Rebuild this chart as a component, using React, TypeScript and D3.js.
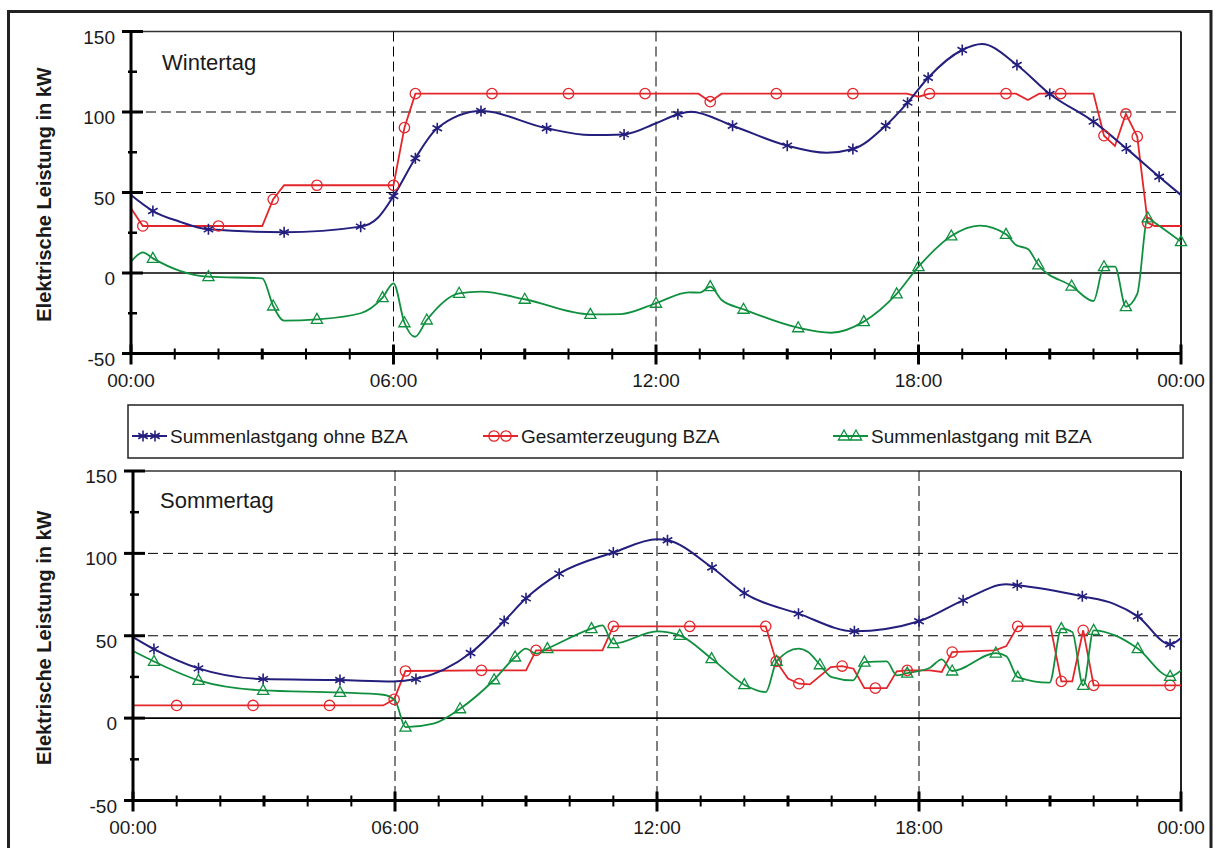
import React from 'react';
import * as d3 from 'd3';

type P = [number, number, number]; // [hour, kW, marker?]

const yTicksMajor = [-50, 0, 50, 100, 150];
const yTicksMinor = [-25, 25, 75, 125];
const yGridDashed = [50, 100];
const xVertDashed = [6, 12, 18];
const xHourTicks = d3.range(0, 25);
const xLabelHours = [0, 6, 12, 18, 24];
const xLabels = ['00:00', '06:00', '12:00', '18:00', '00:00'];
const seriesNames = ['Summenlastgang ohne BZA', 'Gesamterzeugung BZA', 'Summenlastgang mit BZA'];
const panelTitles = ['Wintertag', 'Sommertag'];
const yTitle = 'Elektrische Leistung in kW';

// Wintertag
const winterLoad: P[] = [
  [0, 48.4, 0], [0.5, 38.5, 1], [1.1, 32, 0], [1.77, 27.1, 1], [3.5, 25.3, 1], [5.25, 28.8, 1],
  [5.65, 34.5, 0], [6.0, 47.8, 1], [6.5, 71.3, 1], [7.0, 89.9, 1], [8.0, 100.6, 1], [9.5, 89.9, 1],
  [10.5, 85.7, 0], [11.27, 86.1, 1], [12.0, 93, 0], [12.5, 98.6, 1], [12.8, 100.2, 0], [13.75, 91.5, 1],
  [15.0, 79.1, 1], [15.9, 74.7, 0], [16.5, 77, 1], [17.25, 91.5, 1], [17.75, 105.8, 1], [18.22, 121.3, 1],
  [19.0, 138.5, 1], [19.45, 142.2, 0], [20.25, 129.2, 1], [21.0, 111.2, 1], [22.0, 94, 1], [22.75, 77.4, 1],
  [23.5, 59.8, 1], [24, 48.4, 0],
];
const winterGen: P[] = [
  [0, 40.2, 0], [0.27, 29.2, 1], [2.0, 29.2, 1], [3.0, 29.2, 0], [3.25, 45.8, 1], [3.5, 54.5, 0],
  [4.25, 54.5, 1], [6.0, 54.5, 1], [6.25, 90.3, 1], [6.5, 111.4, 1], [8.25, 111.4, 1], [10.0, 111.4, 1],
  [11.75, 111.4, 1], [12.97, 111.4, 0], [13.24, 106.4, 1], [13.5, 111.4, 0], [14.75, 111.4, 1],
  [16.5, 111.4, 1], [17.73, 111.4, 0], [18.0, 109.5, 0], [18.25, 111.4, 1], [20.0, 111.4, 1],
  [20.23, 111.4, 0], [20.5, 107.5, 0], [20.76, 111.4, 0], [21.25, 111.4, 1], [22.0, 111.4, 0],
  [22.24, 85.3, 1], [22.49, 78.9, 0], [22.74, 98.8, 1], [23.0, 84.7, 1], [23.24, 31.2, 1],
  [23.4, 29.2, 0], [24, 29.2, 0],
];
const winterNet: P[] = [
  [0, 7, 0], [0.27, 12.8, 0], [0.5, 9.1, 1], [1.1, 1.5, 0], [1.77, -2.3, 1], [3.0, -3.3, 0],
  [3.25, -20.5, 1], [3.5, -29.6, 0], [4.25, -28.8, 1], [5.25, -25, 0], [5.75, -15.3, 1], [6.0, -6.4, 0],
  [6.25, -30.9, 1], [6.49, -39.6, 0], [6.76, -29.2, 1], [7.5, -12.6, 1], [8.0, -11.6, 0], [9.0, -16.3, 1],
  [10.5, -25.7, 1], [11.2, -25.5, 0], [12.0, -18.8, 1], [12.75, -12, 0], [13.0, -12.2, 0], [13.24, -8.5, 1],
  [13.5, -16.8, 0], [14.0, -22.5, 1], [15.25, -34, 1], [16.0, -37.1, 0], [16.75, -30.2, 1], [17.5, -13, 1],
  [18.0, 3.9, 1], [18.75, 23, 1], [19.4, 29.4, 0], [20.0, 24, 1], [20.23, 17.4, 0], [20.5, 14.9, 0],
  [20.74, 5, 1], [21.5, -8.1, 1], [22.0, -17.4, 0], [22.24, 3.9, 1], [22.49, 3.9, 0], [22.74, -20.9, 1],
  [23.0, -13, 0], [23.24, 34.3, 1], [23.37, 31.9, 0], [24, 19.5, 1],
];

// Sommertag
const summerLoad: P[] = [
  [0, 49.2, 0], [0.48, 41.9, 1], [1.5, 30.2, 1], [2.98, 23.7, 1], [4.74, 23.1, 1], [5.96, 22.3, 0],
  [6.48, 23.7, 1], [7.73, 39.5, 1], [8.5, 58.9, 1], [9.0, 72.7, 1], [9.76, 87.7, 1], [11.0, 100.5, 1],
  [12.0, 108.6, 0], [12.24, 108, 1], [13.26, 91.4, 1], [14.0, 75.9, 1], [15.24, 63.4, 1], [16.52, 52.7, 1],
  [18.0, 58.8, 1], [19.01, 71.5, 1], [20.0, 81.2, 0], [20.25, 80.6, 1], [21.74, 73.9, 1], [22.45, 69.5, 0],
  [23.01, 61.8, 1], [23.75, 44.8, 1], [24, 48.6, 0],
];
const summerGen: P[] = [
  [0, 7.7, 0], [1.0, 7.7, 1], [2.75, 7.7, 1], [4.5, 7.7, 1], [5.73, 7.7, 0], [5.98, 11.4, 1],
  [6.24, 28.6, 1], [7.98, 29, 1], [9.0, 29, 0], [9.23, 41.1, 1], [10.75, 41.1, 0], [11.0, 55.7, 1],
  [12.75, 55.7, 1], [14.49, 55.7, 1], [14.73, 34.4, 1], [15.0, 24, 0], [15.25, 20.9, 1], [15.5, 20.5, 0],
  [15.98, 31, 0], [16.24, 31.6, 1], [16.5, 30, 0], [16.75, 18.2, 0], [17.0, 18.2, 1], [17.26, 18.2, 0],
  [17.49, 28.4, 0], [17.73, 29, 1], [18.25, 29, 0], [18.52, 28, 0], [18.76, 40.1, 1], [19.74, 41.1, 0],
  [20.0, 43.7, 0], [20.26, 55.7, 1], [21.01, 55.7, 0], [21.26, 22.3, 1], [21.51, 22.3, 0], [21.76, 53.3, 1],
  [22.0, 19.9, 1], [23.75, 19.9, 1], [24, 19.9, 0],
];
const summerNet: P[] = [
  [0, 40.7, 0], [0.48, 34.4, 1], [1.5, 22.9, 1], [2.98, 16.8, 1], [4.74, 15.6, 1], [5.73, 14.2, 0],
  [6.0, 10.8, 0], [6.24, -5.5, 1], [6.88, -3.4, 0], [7.49, 5.7, 1], [8.27, 23.3, 1], [8.75, 37.1, 1],
  [9.0, 42.2, 0], [9.23, 39.1, 0], [9.49, 42.2, 1], [10.5, 54.3, 1], [10.75, 56.3, 0], [11.0, 45.2, 1],
  [12.0, 52.7, 0], [12.52, 50.2, 1], [13.25, 36.1, 1], [14.0, 20.3, 1], [14.49, 15.8, 0], [14.74, 34.4, 1],
  [15.24, 42.2, 0], [15.46, 40.1, 0], [15.73, 32.4, 1], [16.0, 24.9, 0], [16.49, 22.9, 0], [16.75, 34, 1],
  [17.26, 34.4, 0], [17.49, 25.9, 0], [17.73, 27.3, 1], [18.25, 30.6, 0], [18.52, 35.7, 0], [18.76, 28.6, 1],
  [19.76, 39.5, 1], [20.0, 37.5, 0], [20.26, 24.9, 1], [20.99, 21.5, 0], [21.26, 54.3, 1], [21.51, 52.3, 0],
  [21.76, 19.9, 1], [22.0, 53.3, 1], [22.49, 50.2, 0], [23.01, 42.2, 1], [23.75, 25.3, 1], [24, 29, 0],
];

const BLUE = '#241f7d';
const RED = '#e3262b';
const GREEN = '#10903f';
const INK = '#1a1a1a';
const FONT = "'Liberation Sans', Arial, Helvetica, sans-serif";

function Asterisk({ x, y }: { x: number; y: number }) {
  const r = 5.5, c = r * 0.866, s = r * 0.5;
  return (
    <path
      d={`M${x},${y - r}L${x},${y + r}M${x - c},${y - s}L${x + c},${y + s}M${x - c},${y + s}L${x + c},${y - s}`}
      stroke={BLUE} strokeWidth={1.6} fill="none"
    />
  );
}
function Circle({ x, y }: { x: number; y: number }) {
  return <circle cx={x} cy={y} r={5.2} stroke={RED} strokeWidth={1.3} fill="none" />;
}
function Tri({ x, y }: { x: number; y: number }) {
  return (
    <path d={`M${x},${y - 6}L${x - 5.6},${y + 4}L${x + 5.6},${y + 4}Z`} stroke={GREEN} strokeWidth={1.3} fill="none" />
  );
}

type PanelProps = {
  x0: number; x1: number; yT: number; yB: number;
  title: string; tx: number; ty: number;
  load: P[]; gen: P[]; net: P[];
};

function Panel({ x0, x1, yT, yB, title, tx, ty, load, gen, net }: PanelProps) {
  const xs = d3.scaleLinear().domain([0, 24]).range([x0, x1]);
  const ys = d3.scaleLinear().domain([-50, 150]).range([yB, yT]);
  const smooth = d3.line<P>().x(d => xs(d[0])).y(d => ys(d[1])).curve(d3.curveMonotoneX);
  const straight = d3.line<P>().x(d => xs(d[0])).y(d => ys(d[1]));
  return (
    <g>
      {/* frame lines */}
      <line x1={x0} x2={x1} y1={ys(150)} y2={ys(150)} stroke="#333" strokeWidth={1.6} />
      <line x1={x1} x2={x1} y1={yT} y2={yB} stroke="#222" strokeWidth={2} />
      {yGridDashed.map(v => (
        <line key={'g' + v} x1={x0} x2={x1} y1={ys(v)} y2={ys(v)} stroke="#000" strokeWidth={1} strokeDasharray="10,5" />
      ))}
      {xVertDashed.map(h => (
        <line key={'v' + h} x1={xs(h)} x2={xs(h)} y1={yT} y2={yB} stroke="#000" strokeWidth={1} strokeDasharray="10,5" />
      ))}
      <line x1={x0} x2={x1} y1={ys(0)} y2={ys(0)} stroke="#000" strokeWidth={1.6} />

      {/* series */}
      <path d={straight(gen) || ''} stroke={RED} strokeWidth={1.8} fill="none" />
      <path d={smooth(load) || ''} stroke={BLUE} strokeWidth={2} fill="none" />
      <path d={smooth(net) || ''} stroke={GREEN} strokeWidth={1.8} fill="none" />
      {gen.filter(d => d[2]).map((d, i) => <Circle key={'c' + i} x={xs(d[0])} y={ys(d[1])} />)}
      {load.filter(d => d[2]).map((d, i) => <Asterisk key={'a' + i} x={xs(d[0])} y={ys(d[1])} />)}
      {net.filter(d => d[2]).map((d, i) => <Tri key={'t' + i} x={xs(d[0])} y={ys(d[1])} />)}

      {/* axes */}
      <line x1={x0} x2={x0} y1={yT} y2={yB + 1.5} stroke="#000" strokeWidth={3} />
      <line x1={x0 - 1.5} x2={x1} y1={yB} y2={yB} stroke="#000" strokeWidth={3} />
      {yTicksMajor.map(v => (
        <g key={'ym' + v}>
          <line x1={x0 - 9} x2={x0 + 12} y1={ys(v)} y2={ys(v)} stroke="#000" strokeWidth={3} />
          <text x={x0 - 16} y={ys(v) + 12} textAnchor="end" fontSize={19} fill={INK} fontFamily={FONT}>{v}</text>
        </g>
      ))}
      {yTicksMinor.map(v => (
        <line key={'yn' + v} x1={x0 - 3} x2={x0 + 6} y1={ys(v)} y2={ys(v)} stroke="#000" strokeWidth={2.5} />
      ))}
      {xHourTicks.map(h => (
        h % 6 === 0
          ? <line key={'xt' + h} x1={xs(h)} x2={xs(h)} y1={yB - 9} y2={yB + 11} stroke="#000" strokeWidth={3} />
          : <line key={'xt' + h} x1={xs(h)} x2={xs(h)} y1={yB - 5} y2={yB + 6} stroke="#000" strokeWidth={h % 3 === 0 ? 3 : 2} />
      ))}
      {xLabelHours.map((h, i) => (
        <text key={'xl' + i} x={xs(h)} y={yB + 33} textAnchor="middle" fontSize={19} fill={INK} fontFamily={FONT}>{xLabels[i]}</text>
      ))}
      <text
        transform={`translate(51,${(yT + yB) / 2 + 2}) rotate(-90)`}
        textAnchor="middle" fontSize={20} fontWeight="bold" fill={INK} fontFamily={FONT}
      >{yTitle}</text>
      <text x={tx} y={ty} fontSize={22} fill={INK} fontFamily={FONT}>{title}</text>
    </g>
  );
}

function LegendItem({ x, y, kind, label }: { x: number; y: number; kind: number; label: string }) {
  const color = [BLUE, RED, GREEN][kind];
  const M = [Asterisk, Circle, Tri][kind];
  return (
    <g>
      <line x1={x} x2={x + 35} y1={y} y2={y} stroke={color} strokeWidth={1.8} />
      <M x={x + 11} y={y} />
      <M x={x + 23} y={y} />
      <text x={x + 38} y={y + 7} fontSize={19} fill={INK} fontFamily={FONT}>{label}</text>
    </g>
  );
}

export default function App() {
  const legendX = [132, 483, 833];
  return (
    <svg width={1215} height={848} style={{ position: 'absolute', left: 0, top: 0, background: '#fff' }}>
      <rect x={0} y={0} width={1215} height={848} fill="#fff" />
      <rect x={8.5} y={11.5} width={1202.5} height={900} fill="none" stroke="#222" strokeWidth={3} />
      <Panel x0={131} x1={1181} yT={31.5} yB={353.5} title={panelTitles[0]} tx={162} ty={70}
        load={winterLoad} gen={winterGen} net={winterNet} />
      <Panel x0={133} x1={1181} yT={471} yB={800.5} title={panelTitles[1]} tx={160} ty={508}
        load={summerLoad} gen={summerGen} net={summerNet} />
      <rect x={128} y={405} width={1055} height={53} fill="#fff" stroke="#222" strokeWidth={1.5} />
      {seriesNames.map((n, i) => (
        <LegendItem key={n} x={legendX[i]} y={436} kind={i} label={n} />
      ))}
    </svg>
  );
}
